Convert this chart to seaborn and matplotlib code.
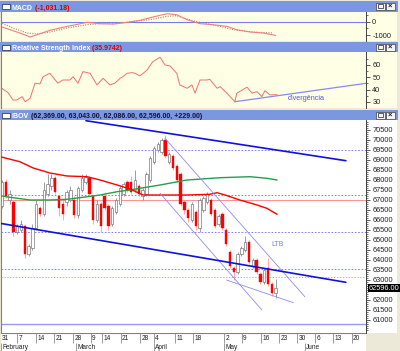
import matplotlib
matplotlib.use("Agg")
import numpy as np
import pandas as pd
import matplotlib.pyplot as plt
from matplotlib.patches import Rectangle
import seaborn as sns

# ---------------- dados ----------------
# candles IBOV, fev-mai 2010 (um por pregão)
opens = [66700, 67900, 67000, 66900, 65400, 65500, 65700, 64300, 64600, 65600,
         66600, 66300, 67300, 67700, 68100, 67200, 66800, 66900, 67000, 67000,
         66250, 67500, 67900, 68100, 67200, 66000, 66800, 67200, 66700, 65800,
         66400, 66800, 67300, 67900, 67900, 67500, 67700, 67200, 67300, 68000,
         68900, 69500, 69400, 70000, 68900, 69200, 68700, 68300, 66900, 66500,
         66000, 66400, 65600, 66500, 66900, 67000, 66500, 65800, 66300, 65500,
         64400, 63600, 63400, 64300, 64500, 64900, 63700, 64000, 63300, 62900,
         63600, 62800, 62369]
highs = [68000, 68050, 67500, 67000, 65800, 66000, 65800, 64800, 65800, 67000,
         66700, 67900, 68300, 68300, 68200, 67300, 67000, 67500, 67700, 67200,
         67700, 68300, 68300, 68200, 67300, 67000, 66900, 67400, 66800, 66700,
         67100, 67700, 67900, 68000, 68200, 68500, 67800, 67600, 68400, 69200,
         69700, 69900, 70100, 70250, 69400, 69300, 68800, 68400, 67000, 66600,
         66900, 66500, 67100, 67200, 67400, 67100, 66600, 66300, 66400, 65600,
         64500, 63700, 64400, 64700, 65200, 65000, 64100, 64100, 63400, 63600,
         64100, 62900, 63043]
lows = [66600, 67100, 66800, 65200, 65300, 65400, 64100, 64200, 64500, 65500,
        66200, 66200, 67200, 67500, 67300, 66200, 66000, 66700, 66900, 66100,
        66100, 67400, 67800, 67200, 65800, 65900, 65400, 66500, 65500, 65700,
        66300, 66700, 67200, 67400, 67300, 67400, 67200, 67000, 67200, 67900,
        68800, 69400, 69300, 69100, 68800, 68500, 67900, 66700, 66300, 65900,
        65900, 65500, 65400, 66400, 66800, 66200, 65600, 65700, 65500, 64700,
        63600, 63000, 63300, 64200, 64400, 63800, 63600, 63300, 62800, 62800,
        62700, 62200, 62086]
closes = [67900, 67200, 67300, 65400, 65700, 65800, 64300, 64700, 65600, 66800,
          66300, 67500, 67800, 68100, 67400, 66600, 66300, 67400, 67500, 66250,
          67600, 68100, 68150, 67300, 66000, 66800, 65700, 66600, 65700, 66600,
          67000, 67600, 67800, 67500, 67400, 68000, 67300, 67500, 68300, 69100,
          69600, 69800, 70000, 69200, 69300, 68600, 68000, 66800, 66500, 66100,
          66800, 65700, 67000, 67100, 67300, 66300, 65700, 66200, 65600, 64800,
          63700, 63400, 64300, 64600, 64900, 63900, 64000, 63400, 62900, 63500,
          62800, 62350, 62596]

# médias móveis
red_ma_x = [-0.5, 4.7, 8.2, 12.6, 17.1, 22.4, 25.8, 30.3, 33.7, 37.1, 39.7,
            48.7, 54.7, 56.6, 58.7, 62.6, 67.1, 69.7, 72.4]
red_ma = [69165, 68915, 68600, 68350, 68200, 68165, 68000, 67750, 67550, 67250,
          67250, 67250, 67285, 67365, 67250, 67000, 66750, 66585, 66285]
green_ma_x = [-0.5, 2.1, 7.4, 12.6, 17.1, 21.3, 25.8, 30.3, 33.7, 36.3, 41.6,
              48.7, 57.4, 65.3, 69.7, 72.4]
green_ma = [67215, 67135, 67000, 67000, 67035, 67135, 67250, 67415, 67500,
            67585, 67750, 68000, 68115, 68165, 68085, 68000]

# linhas de tendência (x = pregão, y = pontos)
upper_x, upper_y = [22.1, 90.5], [70965, 68965]
lower_x, lower_y = [-0.5, 90.5], [65835, 62885]
chan1_x, chan1_y = [42.9, 79.7], [70085, 62165]
chan2_x, chan2_y = [41.6, 68.4], [67335, 61500]
chan3_x, chan3_y = [59.1, 76.7], [63000, 61865]
blue_levels = [69500, 67250, 65400, 63530]
pink_level = 67000
pink_dotted_level = 63130
base_level = 60780

# RSI
rsi_x = [-0.5, 0.3, 1.6, 2.9, 3.9, 5.3, 6.1, 7.4, 8.7, 10, 10.8, 12.6, 14.7, 16,
         17.9, 18.7, 20, 21.3, 23.2, 25, 26.6, 28.4, 29.7, 31.1, 31.8, 32.9, 34.2,
         35, 36.3, 38.2, 39.7, 41.6, 42.9, 44.2, 46, 46.8, 48.7, 50, 50.8, 52.1,
         53.9, 54.7, 56.6, 57.4, 59.2, 61.3, 61.8, 64.5, 65.8, 67.1, 68.4, 69.2,
         70.5, 72.4]
rsi = [42.4, 40.3, 37.5, 31.6, 31.6, 34.3, 30.2, 33, 45.2, 44.6, 50.5, 53.2, 45.2,
       47.8, 47.8, 50.5, 45.2, 54.6, 53.2, 43.8, 49.2, 43.8, 45.2, 49.2, 50.5, 53.2,
       53.8, 53.2, 51.1, 55.9, 62.7, 66.2, 60, 59.2, 53.2, 43.8, 41.1, 43.8, 37.1,
       47.8, 47.8, 48.3, 41.1, 42.4, 37.1, 30.2, 37.1, 42, 37.1, 38.4, 34.3, 39.2,
       35.7, 35.9]
div_x, div_y = [61.3, 96], [30.2, 45.2]

# MACD
macd_x = [-0.5, 2.1, 4.7, 7.4, 9.2, 12.6, 17.1, 22.4, 25.8, 29.2, 32.9, 36.3,
          39.7, 43.4, 46, 48.7, 52.1, 55.5, 59.2, 61.8, 65.3, 68.7, 72]
macd = [-353, -600, -850, -1150, -980, -650, -353, -50, -150, -175, -50, 100,
        350, 600, 525, 150, -150, -225, -350, -600, -775, -850, -1031]
signal_x = [-0.5, 2.9, 6.6, 9.2, 12.6, 17.1, 22.4, 25.8, 30.3, 34.5, 38.9, 43.4,
            46, 48.7, 52.1, 56.6, 60.8, 66.1, 71.3]
signal = [-50, -475, -850, -925, -775, -475, -225, -150, -150, 25, 150, 400, 450,
          200, -50, -300, -600, -775, -850]

# eixo de preços (62500 fica escondido atrás da cotação atual)
price_ticks = list(range(61000, 70501, 500))
price_labels = ['' if p == 62500 else str(p) for p in price_ticks]

# eixo de datas
week_pos = [-0.5, 4.03, 8.95, 13.68, 18.76, 23.34, 26.39, 31.24, 36.32, 40.0,
            45.53, 50.34, 58.42, 63.08, 68.16, 72.97, 77.71, 82.37, 87.18, 92.03]
week_labels = ['31', '7', '14', '21', '28', '9', '14', '21', '28', '4', '11', '18',
               '2', '9', '16', '23', '30', '6', '13', '20']
month_pos = [-0.2, 19.5, 40.0, 58.42, 79.7]
month_labels = ['February', 'March', 'April', 'May', 'June']

# ---------------- figura ----------------
sns.set_style("white")
plt.rcParams['font.family'] = ['Liberation Sans', 'DejaVu Sans']

W, H = 400, 351
XMIN, XMAX = -0.26, 95.8
fig = plt.figure(figsize=(W / 100, H / 100), dpi=100)
fig.patch.set_facecolor('#ECE9D8')

TITLE = '#7B97E0'
YEL = '#FFFFE6'
FS = 5.3


def box(x0, y0, x1, y1):
    return [x0 / W, 1 - y1 / H, (x1 - x0) / W, (y1 - y0) / H]


def title_bar(y0, y1, name, extra, extra_color):
    ax = fig.add_axes(box(0, y0, 398, y1))
    ax.set_facecolor(TITLE)
    ax.set_xlim(0, 398)
    ax.set_ylim(y1, y0)
    ax.set_xticks([])
    ax.set_yticks([])
    for s in ax.spines.values():
        s.set_visible(False)
    ax.add_patch(Rectangle((2, y0 + 2.5), 8, 5.5, fc='white', ec='#202050', lw=0.5))
    t = ax.text(12, y1 - 2.2, name, color='white', fontsize=5, fontweight='bold',
                va='baseline')
    ax.annotate(' ' + extra, xy=(1, 0), xycoords=t, va='bottom', ha='left',
                color=extra_color, fontsize=5, fontweight='bold')
    # botões da janela
    for bx in (376, 386):
        ax.add_patch(Rectangle((bx, y0 + 1.5), 8.5, 7, fc='#F4F4F4', ec='#404040', lw=0.5))
    ax.add_patch(Rectangle((378, y0 + 3.2), 4.5, 3.8, fc='none', ec='#202020', lw=0.5))
    ax.text(390.2, y0 + 5.2, '×', fontsize=5.5, fontweight='bold', ha='center',
            va='center', color='#202020')
    return ax


def panel(y0, y1, face):
    bg = fig.add_axes(box(1, y0, 397, y1))
    bg.set_facecolor(face)
    bg.set_xticks([])
    bg.set_yticks([])
    for s in bg.spines.values():
        s.set_visible(False)
    ax = fig.add_axes(box(1, y0, 366, y1))
    ax.set_facecolor('none')
    ax.set_xlim(XMIN, XMAX)
    ax.set_xticks([])
    for s in ('top', 'bottom'):
        ax.spines[s].set_visible(False)
    ax.spines['left'].set_color('#808080')
    ax.spines['right'].set_color('#404040')
    ax.spines['left'].set_linewidth(0.8)
    ax.spines['right'].set_linewidth(0.7)
    ax.yaxis.tick_right()
    ax.tick_params(axis='y', which='major', direction='out', length=3, width=0.6,
                   pad=1.5, labelsize=FS, colors='#404040', labelcolor='#202020')
    ax.tick_params(axis='y', which='minor', direction='out', length=1.5, width=0.5,
                   colors='#404040')
    ax.set_xlabel('')
    ax.set_ylabel('')
    return ax


# ---- MACD ----
title_bar(1, 12, 'MACD', '(-1,031.18)', '#E00000')
ax_m = panel(12, 41, YEL)
ax_m.set_ylim(-1451, 729)
ax_m.axhline(0, color='#7878F0', lw=0.8)
sns.lineplot(x=signal_x, y=signal, ax=ax_m, color='#A08878', lw=0.8,
             linestyle=(0, (1, 1.2)), sort=False)
sns.lineplot(x=macd_x, y=macd, ax=ax_m, color='#F08080', lw=0.8, sort=False)
ax_m.set_yticks([0, -1000], ['0', '-1000'])
ax_m.set_yticks([500, -500], minor=True)
ax_m.set_xlim(XMIN, XMAX)

# ---- RSI ----
title_bar(42, 52, 'Relative Strength Index', '(35.9742)', '#E00000')
ax_r = panel(52, 108, YEL)
ax_r.set_ylim(25.1, 70.5)
sns.lineplot(x=rsi_x, y=rsi, ax=ax_r, color='#F07070', lw=0.7, sort=False)
sns.lineplot(x=div_x, y=div_y, ax=ax_r, color='#8888F8', lw=0.9, sort=False)
ax_r.text(75.3, 32.4, 'divergência', color='#5555E0', fontsize=5.2, va='center')
ax_r.set_yticks([30, 40, 50, 60])
ax_r.set_yticks([35, 45, 55, 65], minor=True)
ax_r.set_xlim(XMIN, XMAX)

# ---- IBOV ----
title_bar(110, 120, 'IBOV',
          '(62,369.00, 63,043.00, 62,086.00, 62,596.00, +229.00)', '#101040')
ax = panel(120, 333, 'white')
ax.set_ylim(60350, 71000)

for lv in blue_levels:
    ax.axhline(lv, color='#6B6BFF', lw=0.6, ls=(0, (2, 2)), zorder=1)
ax.axhline(pink_level, color='#FF9090', lw=0.7, zorder=1)
ax.axhline(pink_dotted_level, color='#FF8080', lw=0.6, ls=(0, (1.5, 2)), zorder=1)
ax.axhline(base_level, color='#9898F8', lw=1.0, zorder=1)

df = pd.DataFrame({'open': opens, 'high': highs, 'low': lows, 'close': closes})
df['i'] = np.arange(len(df))
up = df[df['close'] >= df['open']]
dn = df[df['close'] < df['open']]
ax.vlines(up['i'], up['low'], up['high'], color='#8C8C8C', lw=0.6, zorder=3)
ax.vlines(dn['i'], dn['low'], dn['high'], color='#FF9A9A', lw=0.6, zorder=3)
ax.bar(up['i'], up['close'] - up['open'], bottom=up['open'], width=0.66,
       color='white', edgecolor='#7A7A7A', lw=0.5, zorder=4)
ax.bar(dn['i'], dn['open'] - dn['close'], bottom=dn['close'], width=0.66,
       color='#FF0000', edgecolor='#FF0000', lw=0.3, zorder=4)

sns.lineplot(x=green_ma_x, y=green_ma, ax=ax, color='#22A04A', lw=1.0, zorder=5, sort=False)
sns.lineplot(x=red_ma_x, y=red_ma, ax=ax, color='#FF0000', lw=1.0, zorder=5, sort=False)
for lx, ly in ((chan1_x, chan1_y), (chan2_x, chan2_y), (chan3_x, chan3_y)):
    sns.lineplot(x=lx, y=ly, ax=ax, color='#8C8CF2', lw=0.6, zorder=6, sort=False)
sns.lineplot(x=upper_x, y=upper_y, ax=ax, color='#1010E0', lw=1.2, zorder=6, sort=False)
sns.lineplot(x=lower_x, y=lower_y, ax=ax, color='#1010E0', lw=1.2, zorder=6, sort=False)
ax.text(71, 64750, 'LTB', color='#7878E8', fontsize=5, va='center')

ax.set_yticks(price_ticks, price_labels)
ax.set_yticks(np.arange(60500, 71000, 100), minor=True)
ax.set_xlim(XMIN, XMAX)
ax.set_ylabel('')
ax.text(1.008, closes[-1], '62596.00', transform=ax.get_yaxis_transform(),
        ha='left', va='center', color='white', fontsize=FS, zorder=10, clip_on=False,
        bbox=dict(boxstyle='square,pad=0.12', fc='black', ec='none'))

# ---- eixo de datas ----
dax = fig.add_axes(box(1, 333, 366, 351))
dax.set_facecolor('white')
dax.set_xlim(XMIN, XMAX)
dax.set_ylim(18, 0)
dax.set_xticks([])
dax.set_yticks([])
for s in dax.spines.values():
    s.set_visible(False)
dax.axhline(0.3, color='#808080', lw=0.8)
dax.vlines(week_pos, 0, 9.5, color='#8A8A8A', lw=0.6)
for p, lab in zip(week_pos, week_labels):
    dax.text(p + 0.35, 2.3, lab, fontsize=4.7, va='top', ha='left', color='#202020')
dax.vlines(month_pos, 9.5, 18, color='#8A8A8A', lw=0.6)
for p, lab in zip(month_pos, month_labels):
    dax.text(p + 0.35, 11.2, lab, fontsize=4.7, va='top', ha='left', color='#202020')

fig.savefig('out.png', dpi=100, facecolor=fig.get_facecolor())
